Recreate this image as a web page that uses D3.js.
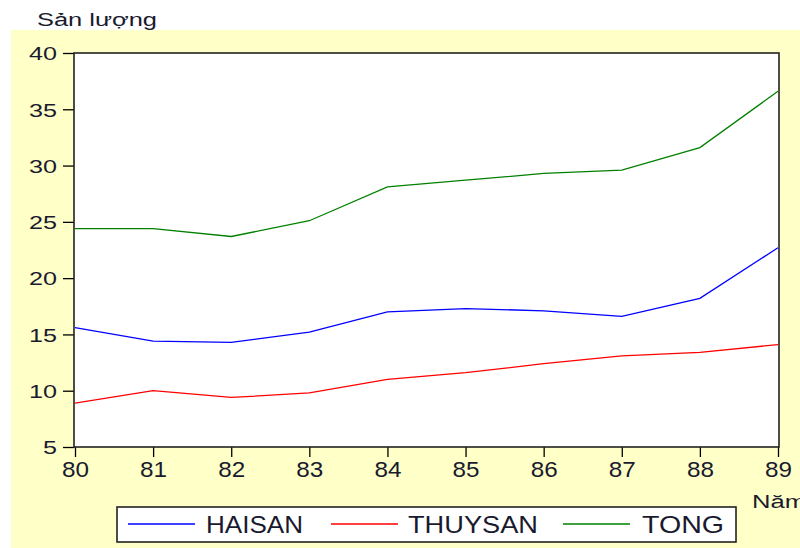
<!DOCTYPE html>
<html><head><meta charset="utf-8">
<script src="https://cdn.jsdelivr.net/npm/d3@7"></script>
<style>body{margin:0;background:#fff}svg{display:block}text{font-family:Arial,"Liberation Sans",sans-serif}</style>
</head><body>
<svg id="c" width="800" height="548"></svg>
<script>
const years = ["80","81","82","83","84","85","86","87","88","89"];
const haisan = [15.6,14.4,14.3,15.2,17.0,17.3,17.1,16.6,18.2,22.7];
const thuysan = [8.9,10.0,9.4,9.8,11.0,11.6,12.4,13.1,13.4,14.1];
const tong = [24.4,24.4,23.7,25.1,28.1,28.7,29.3,29.6,31.6,36.6];
const yTicks = [5,10,15,20,25,30,35,40];
const seriesNames = ["HAISAN","THUYSAN","TONG"];
const seriesColors = ["#0000ff","#ff0000","#008000"];

const svg = d3.select("#c");
const ink = "#1a1a2e";
svg.append("rect").attr("x",11).attr("y",30).attr("width",789).attr("height",518).attr("fill","#ffffc8");
const L=74,T=53,R=779,B=447;
svg.append("rect").attr("x",L).attr("y",T).attr("width",R-L).attr("height",B-T).attr("fill","#fff");
const x = d3.scalePoint().domain(years).range([L+1,R-1]);
const y = d3.scaleLinear().domain([5,40]).range([B,T]);

const gy = svg.append("g").attr("transform",`translate(${L},0)`)
  .call(d3.axisLeft(y).tickValues(yTicks).tickSize(11).tickPadding(6));
const gx = svg.append("g").attr("transform",`translate(0,${B})`)
  .call(d3.axisBottom(x).tickSize(10).tickPadding(5));
[gy,gx].forEach(g=>{g.select(".domain").remove();g.selectAll("line").attr("stroke","#000").attr("stroke-width",1.3);g.selectAll("text").attr("fill",ink);});
gy.selectAll("text").attr("dy","0.36em").style("font-size","19px")
  .attr("textLength",d=>String(d).length*14).attr("lengthAdjust","spacingAndGlyphs");
gx.selectAll("text").style("font-size","22px").attr("dy","0.68em")
  .attr("textLength",27).attr("lengthAdjust","spacingAndGlyphs");

svg.append("rect").attr("x",L).attr("y",T).attr("width",R-L).attr("height",B-T).attr("fill","none").attr("stroke","#222").attr("stroke-width",1.6);

const data=[haisan,thuysan,tong];
const line=d3.line().x((d,i)=>x(years[i])).y(d=>y(d));
data.forEach((s,k)=>{
  svg.append("path").attr("d",line(s)).attr("fill","none").attr("stroke",seriesColors[k]).attr("stroke-width",1.3);
});

svg.append("text").attr("x",37).attr("y",26).text("Sản lượng").style("font-size","18px").attr("fill",ink)
  .attr("textLength",120).attr("lengthAdjust","spacingAndGlyphs");
svg.append("text").attr("x",752).attr("y",508).text("Năm").style("font-size","18px").attr("fill",ink)
  .attr("textLength",54).attr("lengthAdjust","spacingAndGlyphs");

// legend
svg.append("rect").attr("x",117).attr("y",507).attr("width",619).attr("height",35).attr("fill","#fff").attr("stroke","#222").attr("stroke-width",1.6);
const lx=[128,331,563];
const tx=[206,408,642];
const tw=[97,130,82];
seriesNames.forEach((n,k)=>{
  svg.append("line").attr("x1",lx[k]).attr("x2",lx[k]+67).attr("y1",524).attr("y2",524).attr("stroke",seriesColors[k]).attr("stroke-width",1.3);
  svg.append("text").attr("x",tx[k]).attr("y",533).text(n).style("font-size","24px").attr("fill",ink)
    .attr("textLength",tw[k]).attr("lengthAdjust","spacingAndGlyphs");
});
</script>
</body></html>
